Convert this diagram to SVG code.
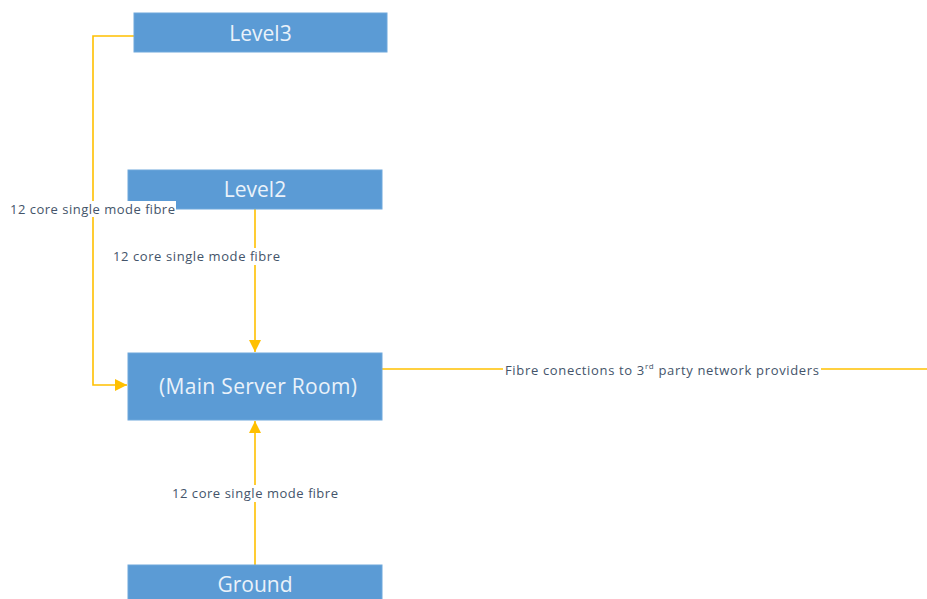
<svg xmlns="http://www.w3.org/2000/svg" width="927" height="599" viewBox="0 0 927 599">
<defs>
<style>
.box{fill:#5B9BD5;stroke:#6FA8DC;stroke-width:1}
.bt{font-family:"Open Sans","Noto Sans",sans-serif;font-size:21px;fill:#EAF2FA;text-anchor:middle;dominant-baseline:central}
.ln{stroke:#FFC000;stroke-width:1.6;fill:none}
.lb{font-family:"Open Sans","Noto Sans",sans-serif;font-size:13px;fill:#44546A;dominant-baseline:central}
.bg{fill:#FFFFFF}
</style>
<marker id="ah2" viewBox="0 0 12 12" refX="12" refY="6" markerWidth="12" markerHeight="12" markerUnits="userSpaceOnUse" orient="auto">
<path d="M0,0 L12,6 L0,12 z" fill="#FFC000"/>
</marker>
</defs>
<rect width="927" height="599" fill="#FFFFFF"/>
<g id="connectors">
<path class="ln" d="M134,36 H93 V385 H127" marker-end="url(#ah2)"/>
<path class="ln" d="M255,209 V352" marker-end="url(#ah2)"/>
<path class="ln" d="M255,565 V421" marker-end="url(#ah2)"/>
<path class="ln" d="M382,369 H927"/>
</g>
<g id="level3">
<rect class="box" x="134" y="13" width="253" height="39"/>
<text class="bt" x="260.5" y="33">Level3</text>
</g>
<g id="level2">
<rect class="box" x="128" y="170" width="254" height="39"/>
<text class="bt" x="255" y="189">Level2</text>
</g>
<g id="main">
<rect class="box" x="128" y="353" width="254" height="67"/>
<text class="bt" x="258" y="386" textLength="198" lengthAdjust="spacing">(Main Server Room)</text>
</g>
<g id="ground">
<rect class="box" x="128" y="565" width="254" height="40"/>
<text class="bt" x="255" y="584">Ground</text>
</g>
<g id="labels">
<rect class="bg" x="8" y="201" width="168" height="16"/>
<text class="lb" x="10" y="209" textLength="165" lengthAdjust="spacing">12 core single mode fibre</text>
<rect class="bg" x="111" y="248" width="170" height="17"/>
<text class="lb" x="113" y="256" textLength="167" lengthAdjust="spacing">12 core single mode fibre</text>
<rect class="bg" x="170" y="485" width="170" height="17"/>
<text class="lb" x="172" y="493" textLength="166" lengthAdjust="spacing">12 core single mode fibre</text>
<rect class="bg" x="503" y="361" width="318" height="17"/>
<text class="lb" x="505" y="370" textLength="314" lengthAdjust="spacing">Fibre conections to 3<tspan font-size="8" dy="-5">rd</tspan><tspan dy="5"> party network providers</tspan></text>
</g>
</svg>
